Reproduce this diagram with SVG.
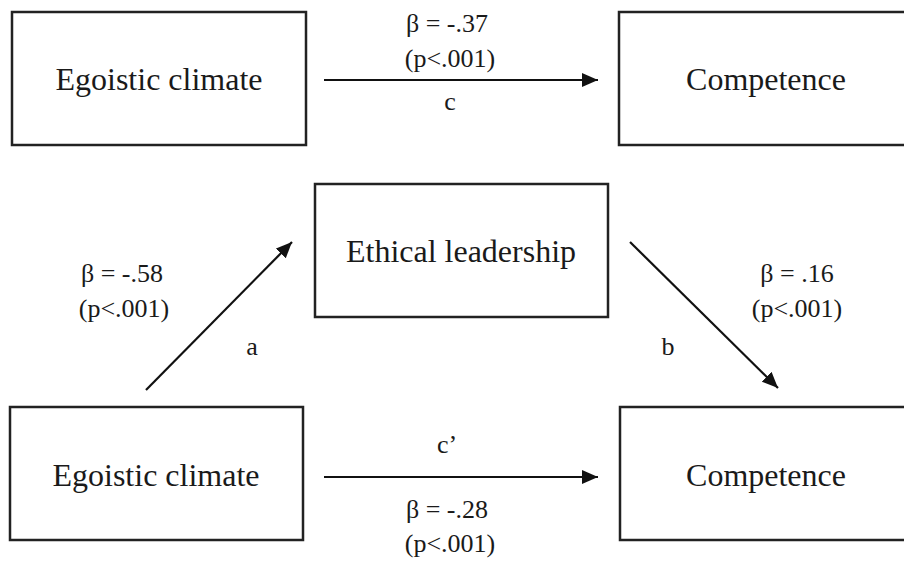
<svg xmlns="http://www.w3.org/2000/svg" width="904" height="562" viewBox="0 0 904 562">
<style>
.box{fill:#fff;stroke:#222;stroke-width:2.5}
.nt{font-family:"Liberation Serif","DejaVu Serif",serif;font-size:32px;fill:#1a1a1a;text-anchor:middle}
.lb{font-family:"Liberation Serif","DejaVu Serif",serif;font-size:26px;fill:#1a1a1a;text-anchor:middle}
.ed{stroke:#111;stroke-width:2.2;fill:none;marker-end:url(#ah)}
</style>
<defs>
<marker id="ah" markerUnits="userSpaceOnUse" markerWidth="18" markerHeight="14" refX="16" refY="7" orient="auto">
<path d="M0,0 L16,7 L0,14 Z" fill="#111"/>
</marker>
</defs>
<rect width="904" height="562" fill="#fff"/>
<g id="egoistic-top"><rect class="box" x="12" y="12" width="294" height="133"/><text class="nt" x="159" y="90">Egoistic climate</text></g>
<g id="competence-top"><rect class="box" x="619" y="12" width="300" height="133"/><text class="nt" x="766" y="90">Competence</text></g>
<g id="ethical"><rect class="box" x="315" y="184" width="293" height="133"/><text class="nt" x="461" y="262">Ethical leadership</text></g>
<g id="egoistic-bottom"><rect class="box" x="10" y="407" width="293" height="133"/><text class="nt" x="156" y="486">Egoistic climate</text></g>
<g id="competence-bottom"><rect class="box" x="620" y="407" width="300" height="133"/><text class="nt" x="766" y="486">Competence</text></g>
<g id="connectors">
<line class="ed" x1="324" y1="80" x2="598" y2="80"/>
<line class="ed" x1="146" y1="390" x2="292" y2="242"/>
<line class="ed" x1="630" y1="242" x2="778" y2="388"/>
<line class="ed" x1="324" y1="477" x2="598" y2="477"/>
</g>
<g id="labels">
<text class="lb" x="447" y="32">β = -.37</text>
<text class="lb" x="450" y="67">(p&lt;.001)</text>
<text class="lb" x="450" y="110">c</text>
<text class="lb" x="122" y="282">β = -.58</text>
<text class="lb" x="124" y="317">(p&lt;.001)</text>
<text class="lb" x="252" y="355">a</text>
<text class="lb" x="797" y="282">β = .16</text>
<text class="lb" x="797" y="317">(p&lt;.001)</text>
<text class="lb" x="668" y="355">b</text>
<text class="lb" x="447" y="453">c’</text>
<text class="lb" x="447" y="518">β = -.28</text>
<text class="lb" x="450" y="552">(p&lt;.001)</text>
</g>
</svg>
